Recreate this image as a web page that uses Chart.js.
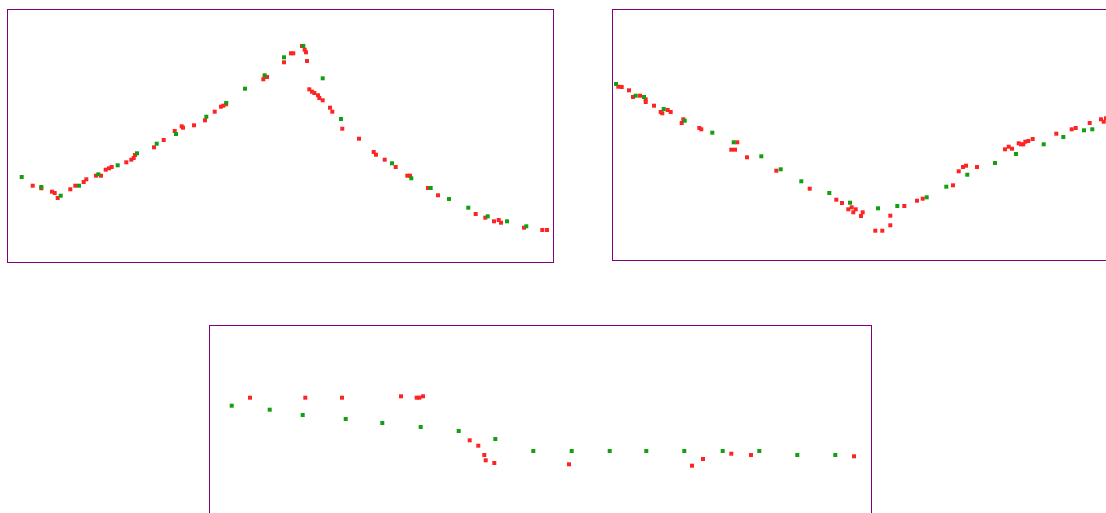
<!DOCTYPE html>
<html>
<head>
<meta charset="utf-8">
<script src="https://cdn.jsdelivr.net/npm/chart.js@4/dist/chart.umd.min.js"></script>
<style>
  html, body { margin: 0; padding: 0; background: #fff; overflow: hidden; width: 1106px; height: 513px; }
  .panel { position: absolute; }
  .panel canvas { display: block; }
</style>
</head>
<body>
<div class="panel" style="left:7px; top:9px;"><canvas id="chartA" width="547" height="254"></canvas></div>
<div class="panel" style="left:612px; top:9px;"><canvas id="chartB" width="547" height="252"></canvas></div>
<div class="panel" style="left:209px; top:325px;"><canvas id="chartC" width="663" height="254"></canvas></div>
<script>
// panel A: rise then peak then decay
var aGreenX = [14.7, 34.3, 53.7, 72, 91.3, 110.7, 130, 149.7, 169, 199.3, 219.3, 238, 257.7, 277, 296.3, 315.7, 334, 385, 404.3, 423.7, 442, 461.3, 480.7, 500, 519.3];
var aGreenY = [85, 75, 66.3, 76.3, 87.7, 96.7, 108.7, 118.3, 128, 145.3, 159, 173.3, 186.7, 204.7, 216, 183.7, 143, 98.7, 83.7, 74, 63, 54.3, 45.7, 40.7, 35.7];
var aRedX = [25.7, 34.3, 45, 47.7, 50.7, 63.3, 68.3, 76.7, 79.3, 89, 94, 98.7, 102, 104.7, 119.3, 124.3, 126.7, 128, 147, 156.7, 167.7, 174.7, 176, 187, 198, 207.7, 214, 216.3, 219, 256.3, 257.7, 260, 277, 284, 286.3, 295, 297.7, 299, 300, 302.3, 305, 307.3, 311, 312.3, 315.7, 323, 325.3, 335.3, 352, 366.7, 369, 377.7, 388.7, 400.3, 403, 421, 431, 468.7, 478.3, 487, 491.7, 494, 517, 535.3, 540];
var aRedY = [76.3, 73.7, 70.3, 69, 64, 72.7, 76.3, 80, 82.7, 86.3, 86.3, 92.3, 93.7, 95, 99.7, 102.3, 104, 107, 114.7, 122, 131, 135.7, 134.3, 136.7, 141.7, 150.3, 155.3, 156.3, 157.7, 182.7, 185, 185, 199.7, 208.7, 208.7, 216, 212.3, 209.7, 201, 172.7, 170.3, 169, 166.7, 164, 161.7, 154.3, 150.3, 133.3, 123.3, 110, 107.3, 102.3, 95, 86.3, 86.3, 74, 66.7, 48, 44.3, 40.7, 42, 39.3, 34.3, 32, 32];

// panel B: fall to a minimum then rise
var bGreenX = [4, 23.7, 32, 51.7, 72.7, 100.3, 121.7, 149.3, 168.7, 189.3, 217.3, 238, 266, 285.3, 314.7, 334.3, 355.3, 383, 404, 431.7, 451.3, 472, 480.3];
var bGreenY = [176, 164.3, 163, 151, 139.3, 127.3, 117.7, 103.7, 90.7, 78.7, 67, 57.3, 51.7, 54, 62.7, 73.3, 85.3, 97, 106, 115.7, 123, 129.7, 130.7];
var bRedX = [6.3, 9.7, 17, 21, 28, 33.7, 33.7, 42, 48.7, 50.3, 55.7, 58.7, 71.3, 69.7, 87.3, 89.3, 125.3, 119.3, 123, 135, 164.3, 197.7, 224.3, 230, 239.7, 236.3, 243.7, 241.3, 249, 250.7, 263.3, 270.3, 278.3, 278.3, 292.3, 305, 310.7, 341, 346.7, 351, 354, 365, 393, 396.7, 400, 406.7, 409, 411.3, 413.3, 416.3, 420.7, 444.3, 459.7, 463.7, 477.7, 489, 491.7, 494];
var bRedY = [173.3, 173, 169.7, 163, 164.3, 160.7, 158, 154.3, 148, 146.7, 150, 148, 140.7, 137, 132, 130.7, 117.7, 110.3, 110.3, 102.7, 89.3, 71.3, 60.3, 57, 52.7, 50.7, 50.7, 47.7, 44, 47.7, 29.3, 29.3, 34.7, 44.3, 54, 59.3, 61.3, 74.7, 88.7, 93, 94.3, 93, 110.7, 113.3, 111.3, 116.7, 115.7, 115.7, 118.3, 119, 121, 126.3, 130.7, 132, 137, 140.7, 138.3, 141.7];

// panel C: plateau, drop, flat
var cGreenX = [22.7, 60.7, 93.7, 136.7, 173.3, 211.7, 249.7, 286.3, 324.3, 362.7, 400.7, 437.3, 475.3, 513.7, 550.3, 588.3, 626.3];
var cGreenY = [172.3, 168.3, 163, 159, 155, 151, 147, 139, 127, 127, 127, 127, 127, 127, 127, 123, 123];
var cRedX = [41, 96.3, 133, 192, 207.7, 210.3, 214, 260.7, 269.3, 275.3, 276.7, 285.3, 360, 483, 494, 522.3, 542, 645];
var cRedY = [180.3, 180.3, 180.3, 181.7, 180.3, 180.3, 181.7, 137.7, 132.3, 123, 117.7, 115, 113.7, 112.3, 119, 124.3, 123, 121.7];

var greenColor = "#12a012";
var redColor = "#ff2424";
var frameColor = "#800080";

function toPoints(xs, ys) {
  return xs.map(function (x, i) { return { x: x, y: ys[i] }; });
}

// purple frame around the plot area
var framePlugin = {
  id: "frame",
  afterDraw: function (chart) {
    var a = chart.chartArea;
    var ctx = chart.ctx;
    ctx.save();
    ctx.strokeStyle = frameColor;
    ctx.lineWidth = 1;
    ctx.strokeRect(a.left + 0.5, a.top + 0.5, a.right - a.left, a.bottom - a.top);
    ctx.restore();
  },
};

function panelChart(id, gx, gy, rx, ry, xMax, yMax) {
  var el = document.getElementById(id);
  if (!el) return;
  new Chart(el.getContext("2d"), {
    type: "scatter",
    data: {
      datasets: [
        { data: toPoints(gx, gy), backgroundColor: greenColor, clip: false },
        { data: toPoints(rx, ry), backgroundColor: redColor, clip: false },
      ],
    },
    options: {
      responsive: false,
      animation: false,
      events: [],
      layout: { autoPadding: false, padding: { left: 0, top: 0, right: 1, bottom: 1 } },
      elements: {
        point: { pointStyle: "rect", radius: 2.83, borderWidth: 0, hoverRadius: 2.83 },
      },
      plugins: { legend: { display: false }, tooltip: { enabled: false } },
      scales: {
        x: { type: "linear", min: 0, max: xMax, display: false },
        y: { type: "linear", min: 0, max: yMax, display: false },
      },
    },
    plugins: [framePlugin],
  });
}

panelChart("chartA", aGreenX, aGreenY, aRedX, aRedY, 546, 253);
panelChart("chartB", bGreenX, bGreenY, bRedX, bRedY, 546, 251);
panelChart("chartC", cGreenX, cGreenY, cRedX, cRedY, 662, 253);
</script>
</body>
</html>
